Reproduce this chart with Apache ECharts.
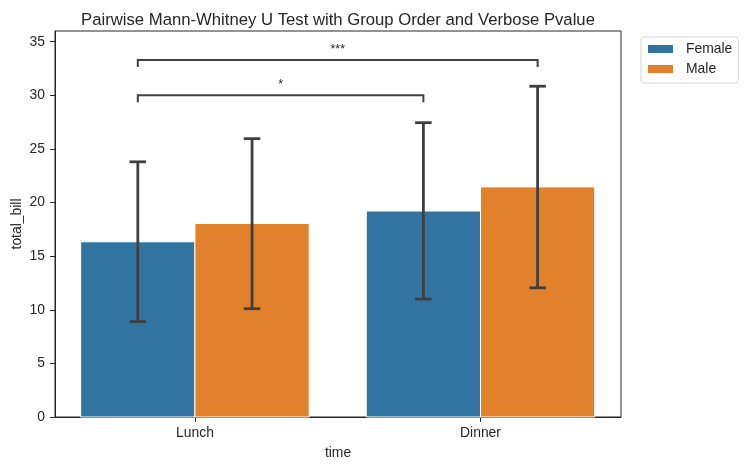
<!DOCTYPE html>
<html><head><meta charset="utf-8">
<script src="https://cdn.jsdelivr.net/npm/echarts@6/dist/echarts.min.js"></script>
<style>html,body{margin:0;padding:0;background:#fff}#c{width:747px;height:470px}</style>
</head><body><div id="c"></div>
<script>
const categories = ['Lunch', 'Dinner'];
const seriesNames = ['Female', 'Male'];
const femaleMean = [16.34, 19.21];
const maleMean = [18.05, 21.46];
const femaleLow = [8.9, 11.0];
const femaleHigh = [23.8, 27.45];
const maleLow = [10.1, 12.05];
const maleHigh = [25.96, 30.85];
const yTicks = [0, 5, 10, 15, 20, 25, 30, 35];
// bracket: [catA, groupA, catB, groupB]
const bracketPairs = [[0, 0, 1, 0], [0, 0, 1, 1]];
const bracketY = [30.0, 33.3];
const bracketTick = [0.65, 0.65];
const bracketLabels = ['*', '***'];

const colors = ['#3274a1', '#e1812c'];
const dark = '#3f3f3f';
const font = '"Liberation Sans", Arial, sans-serif';
const fs = 13.9;

const meanByGroup = [femaleMean, maleMean];
const errData = [];
[[femaleLow, femaleHigh], [maleLow, maleHigh]].forEach((pair, g) => {
  categories.forEach((c, i) => errData.push([i, pair[0][i], pair[1][i], g]));
});
const brData = bracketPairs.map((p, k) => [p[0], p[1], p[2], p[3], bracketY[k], bracketTick[k], k]);
const dodge = g => (g === 0 ? -0.2 : 0.2);

function barSeries(g) {
  return {
    name: seriesNames[g], type: 'custom',
    itemStyle: { color: colors[g] },
    data: meanByGroup[g].map((v, i) => [i, v]),
    encode: { x: 0, y: 1 },
    renderItem: (params, api) => {
      const i = api.value(0);
      const c = i + dodge(g);
      const p0 = api.coord([c - 0.2, 0]);
      const p1 = api.coord([c + 0.2, api.value(1)]);
      return { type: 'rect',
        shape: { x: p0[0], y: p1[1], width: p1[0] - p0[0], height: p0[1] - p1[1] },
        style: { fill: colors[g], stroke: '#ffffff', lineWidth: 1 } };
    }
  };
}

const chart = echarts.init(document.getElementById('c'));
chart.setOption({
  animation: false,
  textStyle: { fontFamily: font },
  title: {
    text: 'Pairwise Mann-Whitney U Test with Group Order and Verbose Pvalue',
    left: 333, top: 7, textAlign: 'center',
    textStyle: { fontSize: 16.7, fontWeight: 'normal', color: '#262626', fontFamily: font }
  },
  legend: {
    data: seriesNames, orient: 'vertical', left: 641, top: 37,
    itemWidth: 25, itemHeight: 8, itemGap: 4, icon: 'rect',
    borderColor: '#d6d6d6', borderWidth: 1, borderRadius: 3,
    padding: [4, 6, 6, 7],
    textStyle: { fontSize: fs, lineHeight: 16, color: '#262626', fontFamily: font, padding: [0, 0, 0, 8] }
  },
  grid: { left: 55, right: 126, top: 31, bottom: 53, show: true, borderColor: '#262626', borderWidth: 1,
    containLabel: false, outerBoundsMode: 'none' },
  xAxis: {
    type: 'value', min: -0.49, max: 1.492,
    name: 'time', nameLocation: 'middle', nameGap: 29, nameMoveOverlap: false,
    nameTextStyle: { fontSize: fs, color: '#262626' },
    axisLine: { show: true, onZero: false, lineStyle: { color: '#262626', width: 1 } },
    axisTick: { show: true, length: 5, customValues: [0, 1], lineStyle: { color: '#262626' } },
    axisLabel: { fontSize: fs, color: '#262626', margin: 9, customValues: [0, 1],
      formatter: v => categories[Math.round(v)] },
    splitLine: { show: false }
  },
  yAxis: {
    type: 'value', min: 0, max: 36, interval: 5,
    name: 'total_bill', nameLocation: 'middle', nameGap: 31, nameMoveOverlap: false,
    nameTextStyle: { fontSize: fs, color: '#262626' },
    axisLine: { show: true, onZero: false, lineStyle: { color: '#262626', width: 1 } },
    axisTick: { show: true, length: 5, lineStyle: { color: '#262626' } },
    axisLabel: { fontSize: fs, color: '#262626', margin: 10, showMaxLabel: false,
      formatter: v => yTicks.includes(v) ? String(v) : '' },
    splitLine: { show: false }
  },
  series: [
    barSeries(0),
    barSeries(1),
    { type: 'custom', data: errData, z: 10,
      renderItem: (params, api) => {
        const g = api.value(3);
        const lo = api.coord([api.value(0) + dodge(g), api.value(1)]);
        const hi = api.coord([api.value(0) + dodge(g), api.value(2)]);
        const x = lo[0];
        const cap = api.size([0.029, 0])[0];
        const st = { stroke: dark, lineWidth: 2.8 };
        return { type: 'group', children: [
          { type: 'line', shape: { x1: x, y1: lo[1], x2: x, y2: hi[1] }, style: st },
          { type: 'line', shape: { x1: x - cap, y1: lo[1], x2: x + cap, y2: lo[1] }, style: st },
          { type: 'line', shape: { x1: x - cap, y1: hi[1], x2: x + cap, y2: hi[1] }, style: st }
        ]};
      } },
    { type: 'custom', data: brData, z: 11,
      renderItem: (params, api) => {
        const xa = api.coord([api.value(0) + dodge(api.value(1)), 0])[0];
        const xb = api.coord([api.value(2) + dodge(api.value(3)), 0])[0];
        const y = api.coord([0, api.value(4)])[1];
        const yt = api.coord([0, api.value(4) - api.value(5)])[1];
        const st = { stroke: dark, lineWidth: 2, fill: null };
        return { type: 'group', children: [
          { type: 'polyline', shape: { points: [[xa, yt], [xa, y], [xb, y], [xb, yt]] }, style: st },
          { type: 'text', style: { text: bracketLabels[api.value(6)], x: (xa + xb) / 2, y: y - 4,
              textAlign: 'center', textVerticalAlign: 'bottom', fontSize: 12.5, fill: '#262626', fontFamily: font } }
        ]};
      } }
  ]
});
</script></body></html>
